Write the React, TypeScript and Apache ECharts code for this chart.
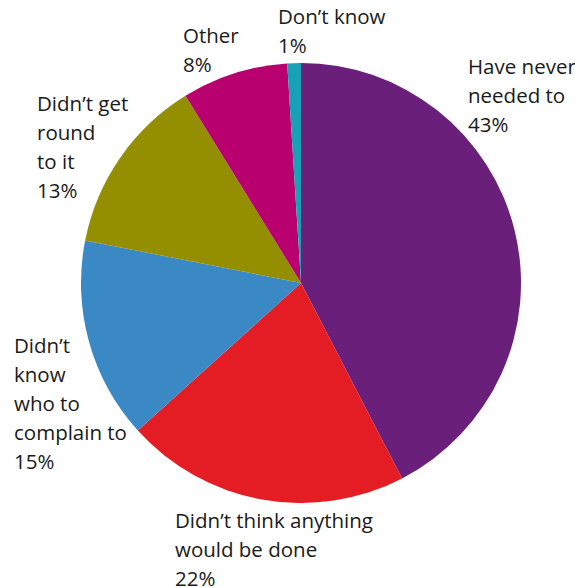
import React, { useEffect, useRef } from "react";
import * as echarts from "echarts";

const categories = [
  "Have never needed to",
  "Didn't think anything would be done",
  "Didn't know who to complain to",
  "Didn't get round to it",
  "Other",
  "Don't know",
];
const values = [42.4, 20.9, 14.8, 13.1, 7.8, 1.0];
const percentLabels = ["43%", "22%", "15%", "13%", "8%", "1%"];
const labelLines = [
  ["Have never", "needed to"],
  ["Didn\u2019t think anything", "would be done"],
  ["Didn\u2019t", "know", "who to", "complain to"],
  ["Didn\u2019t get", "round", "to it"],
  ["Other"],
  ["Don\u2019t know"],
];
const colors = ["#6a1f7a", "#e31d23", "#3a88c4", "#948f00", "#b8006f", "#17a0b6"];

// label anchor (left, top) per slice
const labelPos: [number, number][] = [
  [468, 51],
  [175, 505],
  [14, 330],
  [37, 88],
  [183, 20],
  [278, 1],
];

export default function App() {
  const ref = useRef<HTMLDivElement>(null);
  useEffect(() => {
    if (!ref.current) return;
    const chart = echarts.init(ref.current, null, { renderer: "svg" });
    chart.setOption({
      animation: false,
      backgroundColor: "#ffffff",
      series: [
        {
          type: "pie",
          center: [301, 283],
          radius: [0, 220],
          startAngle: 90,
          clockwise: true,
          avoidLabelOverlap: false,
          data: categories.map((name, i) => ({
            name,
            value: values[i],
            itemStyle: { color: colors[i] },
          })),
          label: {
            show: true,
            position: "outside",
            formatter: (p: any) =>
              [...labelLines[p.dataIndex], percentLabels[p.dataIndex]].join("\n"),
            fontFamily: "Open Sans",
            fontSize: 20.5,
            lineHeight: 29,
            color: "#1a1a1a",
            align: "left",
          },
          labelLine: { show: false },
          labelLayout: (params: any) => {
            const pos = labelPos[params.dataIndex];
            return {
              x: pos[0],
              y: pos[1],
              align: "left",
              verticalAlign: "top",
            };
          },
          emphasis: { disabled: true },
        },
      ],
    });
    return () => chart.dispose();
  }, []);
  return (
    <div
      ref={ref}
      style={{ position: "absolute", left: 0, top: 0, width: 575, height: 587 }}
    />
  );
}
